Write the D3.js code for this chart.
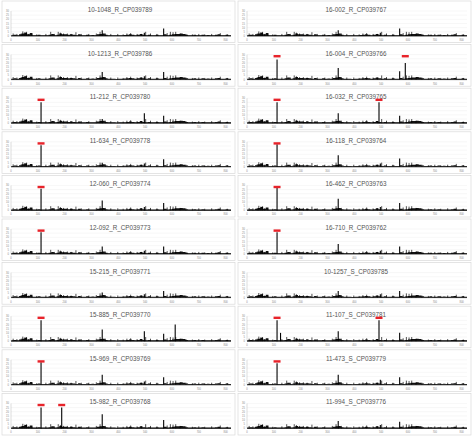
<!DOCTYPE html>
<html>
<head>
<meta charset="utf-8">
<script src="https://cdn.jsdelivr.net/npm/d3@7"></script>
<style>
body { margin: 0; background: #fff; }
text { font-family: "Liberation Sans", Arial, sans-serif; }
</style>
</head>
<body>
<div id="vis"></div>
<script>
// shared background coverage, one value per 10 bp bin, 0..820
const binSize = 10;
const baseline = [
  1, 1.5, 1, 2, 3, 4, 2, 3.5, 1, 1,
  1.5, 1, 1, 1, 1.5, 2.5, 1, 1.5, 3, 2,
  2, 1.5, 2, 1.5, 1, 2, 1, 1, 1.5, 1,
  1.2, 1, 2, 2.5, 3, 1.5, 1, 1, 1, 0.8,
  1, 1, 1.2, 1.5, 2, 1.5, 1, 1.5, 2.5, 1.5,
  1, 1.5, 1, 1, 1.5, 1, 1, 2, 1, 1.5,
  2, 2.5, 2.5, 3, 2.5, 1.5, 1, 1, 1.5, 1,
  1, 1.5, 1, 1.2, 1, 1, 1.5, 2, 1, 1,
  1.5, 1, 0.5
];
// small spikes that every strain shares [position, height]
const minorSpikes = [
  [8, 3], [22, 2.5], [38, 3], [44, 5.5], [52, 4.5], [58, 5], [66, 2.5], [78, 2],
  [96, 2], [130, 2.5], [148, 5], [162, 2.5], [176, 5], [184, 4], [196, 3], [210, 3],
  [224, 2.5], [242, 4.5], [262, 2.5], [290, 2.5], [318, 3], [332, 5], [352, 3], [372, 2.5],
  [398, 2.5], [418, 2], [432, 3], [446, 3.5], [470, 2.5], [486, 2.5], [502, 5], [520, 3],
  [544, 2.5], [582, 3.5], [594, 5], [604, 4.5], [614, 5], [630, 3], [652, 2.5], [676, 2],
  [700, 2.5], [722, 2], [748, 2.5], [780, 3.5], [806, 2]
];
const xTicks = [0, 100, 200, 300, 400, 500, 600, 700, 800];
const yTicks = [0, 5, 10, 15, 20, 25, 30];

// per panel: name, extra peaks [position, height], red marks [position]
const leftNames = ['10-1048_R_CP039789', '10-1213_R_CP039786', '11-212_R_CP039780', '11-634_R_CP039778', '12-060_R_CP039774',
  '12-092_R_CP039773', '15-215_R_CP039771', '15-885_R_CP039770', '15-969_R_CP039769', '15-982_R_CP039768'];
const rightNames = ['16-002_R_CP039767', '16-004_R_CP039766', '16-032_R_CP039765', '16-118_R_CP039764', '16-462_R_CP039763',
  '16-710_R_CP039762', '10-1257_S_CP039785', '11-107_S_CP039781', '11-473_S_CP039779', '11-994_S_CP039776'];
const leftPeaks = [
  [[340, 7], [497, 4], [569, 9]],
  [[340, 9], [497, 4], [569, 9]],
  [[112, 25], [340, 5], [497, 12], [569, 9]],
  [[112, 26], [340, 5], [497, 4], [569, 9]],
  [[112, 26], [340, 12], [497, 4], [569, 9]],
  [[112, 26], [340, 9], [497, 4], [569, 9]],
  [[340, 6], [497, 4], [569, 8]],
  [[112, 25], [340, 14], [497, 12], [569, 9], [612, 20]],
  [[112, 27], [340, 12], [497, 4], [569, 9]],
  [[112, 25], [189, 25], [340, 17], [569, 10]]
];
const rightPeaks = [
  [[340, 7], [497, 4], [569, 9]],
  [[112, 24], [340, 14], [569, 10], [590, 20]],
  [[112, 25], [340, 12], [492, 25], [569, 9]],
  [[112, 27], [340, 14], [497, 4], [569, 10]],
  [[112, 27], [340, 14], [497, 4], [569, 9]],
  [[112, 26], [340, 12], [497, 4], [569, 9]],
  [[340, 8], [497, 4], [569, 8]],
  [[112, 25], [125, 10], [340, 12], [492, 25], [569, 10]],
  [[112, 26], [340, 12], [497, 6], [569, 9]],
  [[340, 9], [497, 4], [569, 8]]
];
const leftMarks = [[], [], [112], [112], [112], [112], [], [112], [112], [112, 189]];
const rightMarks = [[], [112, 590], [112, 492], [112], [112], [112], [], [112, 492], [112], []];

const svg = d3.select('#vis').append('svg')
  .attr('width', 474).attr('height', 437);

const rowH = 43.6;
const panelW = 233;
const x = d3.scaleLinear().domain([0, 820]).range([9, 229]);
const y = d3.scaleLinear().domain([0, 30]).range([35, 10]);

function drawPanel(px, py, name, peaks, marks) {
  const g = svg.append('g').attr('transform', `translate(${px},${py})`);
  g.append('rect').attr('x', 0).attr('y', 0).attr('width', panelW).attr('height', rowH - 2)
    .attr('fill', '#fff').attr('stroke', '#d9d9d9').attr('stroke-width', 0.7);

  g.selectAll('.grid').data(yTicks.slice(1)).enter().append('line')
    .attr('x1', x(0)).attr('x2', x(820)).attr('y1', d => y(d)).attr('y2', d => y(d))
    .attr('stroke', '#eeeeee').attr('stroke-width', 0.5);
  g.selectAll('.yl').data(yTicks).enter().append('text')
    .attr('x', x(0) - 2).attr('y', d => y(d) + 1).attr('text-anchor', 'end')
    .attr('font-size', 2.6).attr('fill', '#888').text(d => d);
  g.selectAll('.xl').data(xTicks).enter().append('text')
    .attr('x', d => x(d)).attr('y', y(0) + 5).attr('text-anchor', 'middle')
    .attr('font-size', 2.6).attr('fill', '#888').text(d => d);

  g.append('text').attr('x', 118).attr('y', 11).attr('text-anchor', 'middle')
    .attr('font-size', 6.3).attr('fill', '#555').text(name);

  // coverage bins
  const bins = baseline.map((v, i) => ({ pos: i * binSize, val: v }));
  g.append('path').datum(bins)
    .attr('d', d3.area().curve(d3.curveStepAfter)
      .x(d => x(d.pos)).y0(y(0)).y1(d => y(d.val)))
    .attr('fill', '#111');
  g.append('line').attr('x1', x(0)).attr('x2', x(820)).attr('y1', y(0)).attr('y2', y(0))
    .attr('stroke', '#111').attr('stroke-width', 0.8);
  g.append('line').attr('x1', x(0)).attr('x2', x(0)).attr('y1', y(30)).attr('y2', y(0))
    .attr('stroke', '#bbb').attr('stroke-width', 0.5);

  g.selectAll('.ms').data(minorSpikes).enter().append('line')
    .attr('x1', d => x(d[0])).attr('x2', d => x(d[0]))
    .attr('y1', y(0)).attr('y2', d => y(d[1]))
    .attr('stroke', '#000').attr('stroke-width', 0.7);

  g.selectAll('.pk').data(peaks).enter().append('line')
    .attr('x1', d => x(d[0])).attr('x2', d => x(d[0]))
    .attr('y1', y(0)).attr('y2', d => y(d[1]))
    .attr('stroke', '#000').attr('stroke-width', 1.1);

  g.selectAll('.mk').data(marks).enter().append('rect')
    .attr('x', d => x(d) - 3.5).attr('y', y(29.5)).attr('width', 7).attr('height', 2.4)
    .attr('fill', '#e8232a');
}

leftNames.forEach((n, i) => drawPanel(2, 1 + i * rowH, n, leftPeaks[i], leftMarks[i]));
rightNames.forEach((n, i) => drawPanel(238, 1 + i * rowH, n, rightPeaks[i], rightMarks[i]));
</script>
</body>
</html>
